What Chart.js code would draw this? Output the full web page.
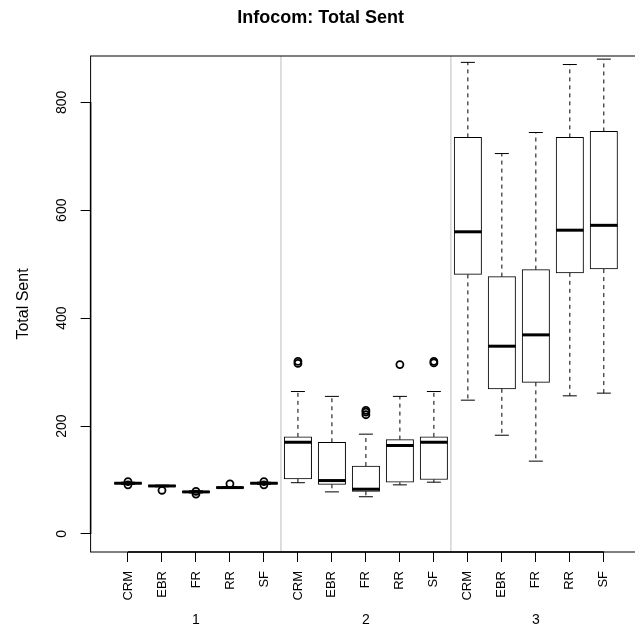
<!DOCTYPE html>
<html><head><meta charset="utf-8">
<script src="https://cdn.jsdelivr.net/npm/chart.js@4/dist/chart.umd.min.js"></script>
<style>
html,body{margin:0;padding:0;background:#fff;overflow:hidden;}
#clip{width:635px;height:631px;overflow:hidden;position:relative;background:#fff;}
#wrap{width:660px;height:631px;position:absolute;left:0;top:0;}
</style></head><body>
<div id="clip"><div id="wrap"><canvas id="c"></canvas></div></div>
<script>
// ---- data ----
const methods = ['CRM','EBR','FR','RR','SF'];
const groupLabels = ['1','2','3'];
const yTicks = [0,200,400,600,800];
const whiskerLow  = [92, 87.5, 76, 84.5, 92,   95, 78, 69, 91, 96,   248, 183, 135, 256, 261];
const q1          = [93, 88,   77, 85,   93,  102, 92, 79, 96, 101,  481, 269, 281, 484, 491];
const median      = [94, 89,   78, 86,   94,  170, 99, 83, 164, 170, 560, 348, 369, 563, 572];
const q3          = [95, 90,   79, 87,   95,  180, 170, 126, 175, 180, 735, 477, 490, 735, 746];
const whiskerHigh = [96, 90.5, 80, 88,   96,  264, 255, 185, 255, 264, 874, 705, 744, 870, 880];
const outliers    = [[91,97],[81],[74,79],[93],[91,97],[316,320],[],[221,226,229],[314],[317,320],[],[],[],[],[]];

// ---- derived structure ----
const positions = [], catLabels = [];
groupLabels.forEach((g, gi) => methods.forEach((m, mi) => { positions.push(gi*methods.length + mi + 1); catLabels.push(m); }));
const groupCenters = groupLabels.map((g, gi) => gi*methods.length + (methods.length+1)/2);
const separators = groupLabels.slice(1).map((g, gi) => (gi+1)*methods.length + 0.5);
const outlierPoints = [];
outliers.forEach((arr, i) => arr.forEach(v => outlierPoints.push({x: positions[i], y: v})));

const FONT = "'Liberation Sans', Arial, Helvetica, sans-serif";
Chart.defaults.font.family = FONT;
Chart.defaults.color = '#000';

const BOX_W = 27.4, CAP_W = 14;

const boxPlugin = {
  id: 'boxplot',
  afterLayout(chart) {
    // let the rotated category labels use the space below the axis box
    chart.scales.x.bottom = chart.height;
  },
  beforeDatasetsDraw(chart) {
    const {ctx, chartArea: a, scales: {x}} = chart;
    ctx.save();
    ctx.strokeStyle = '#d3d3d3'; ctx.lineWidth = 1.5;
    separators.forEach(s => {
      const px = x.getPixelForValue(s);
      ctx.beginPath(); ctx.moveTo(px, a.top); ctx.lineTo(px, a.bottom); ctx.stroke();
    });
    ctx.restore();
  },
  afterDatasetsDraw(chart) {
    const {ctx, scales: {x, y}} = chart;
    ctx.save();
    ctx.strokeStyle = '#000';
    positions.forEach((p, i) => {
      const px = x.getPixelForValue(p);
      const yl = y.getPixelForValue(whiskerLow[i]), yq1 = y.getPixelForValue(q1[i]);
      const ym = y.getPixelForValue(median[i]);
      const yq3 = y.getPixelForValue(q3[i]), yh = y.getPixelForValue(whiskerHigh[i]);
      ctx.lineWidth = 1; ctx.setLineDash([4, 4]);
      ctx.beginPath(); ctx.moveTo(px, yq3); ctx.lineTo(px, yh); ctx.stroke();
      ctx.beginPath(); ctx.moveTo(px, yq1); ctx.lineTo(px, yl); ctx.stroke();
      ctx.setLineDash([]);
      ctx.beginPath(); ctx.moveTo(px - CAP_W/2, yh); ctx.lineTo(px + CAP_W/2, yh); ctx.stroke();
      ctx.beginPath(); ctx.moveTo(px - CAP_W/2, yl); ctx.lineTo(px + CAP_W/2, yl); ctx.stroke();
      ctx.lineWidth = 3;
      ctx.beginPath(); ctx.moveTo(px - BOX_W/2, ym); ctx.lineTo(px + BOX_W/2, ym); ctx.stroke();
    });
    ctx.restore();
  },
  afterDraw(chart) {
    const {ctx, chartArea: a, scales: {x, y}} = chart;
    ctx.save();
    ctx.strokeStyle = '#000'; ctx.lineWidth = 1;
    ctx.strokeRect(a.left, a.top, a.right - a.left, a.bottom - a.top);
    ctx.lineWidth = 1.5;
    ctx.beginPath();
    ctx.moveTo(a.left, y.getPixelForValue(yTicks[0]));
    ctx.lineTo(a.left, y.getPixelForValue(yTicks[yTicks.length-1]));
    ctx.stroke();
    ctx.beginPath();
    ctx.moveTo(x.getPixelForValue(positions[0]), a.bottom);
    ctx.lineTo(x.getPixelForValue(positions[positions.length-1]), a.bottom);
    ctx.stroke();
    ctx.restore();
  }
};

new Chart(document.getElementById('c'), {
  type: 'bar',
  data: {
    datasets: [
      {
        type: 'bar',
        data: positions.map((p, i) => ({x: p, y: [q1[i], q3[i]]})),
        backgroundColor: '#ffffff', borderColor: '#000', borderWidth: 1,
        borderSkipped: false, barThickness: BOX_W, order: 2
      },
      {
        type: 'scatter',
        data: outlierPoints,
        pointStyle: 'circle', pointRadius: 3.5, pointBorderWidth: 1.8,
        pointBorderColor: '#000', pointBackgroundColor: 'rgba(0,0,0,0)', order: 1
      }
    ]
  },
  options: {
    responsive: true, maintainAspectRatio: false, animation: false,
    layout: {padding: {left: 0, right: 18.8, top: 0, bottom: 0}},
    plugins: {
      legend: {display: false}, tooltip: {enabled: false},
      title: {display: true, text: 'Infocom: Total Sent', color: '#000',
        font: {size: 18, weight: 'bold'}, padding: {top: 7, bottom: 27.4}}
    },
    scales: {
      x: {
        type: 'linear', position: 'bottom', weight: 0, min: -0.1, max: 16.1, offset: false,
        afterBuildTicks: s => { s.ticks = positions.map(v => ({value: v})); },
        ticks: {callback: (v, i) => catLabels[i], minRotation: 90, maxRotation: 90, autoSkip: false,
          font: {size: 13}, padding: 9, color: '#000'},
        grid: {drawOnChartArea: false, drawTicks: true, tickLength: 10, color: '#000', offset: false},
        border: {display: false},
        afterFit: s => { s.height = 30; }
      },
      x2: {
        type: 'linear', position: 'bottom', weight: 1, min: -0.1, max: 16.1, offset: false,
        afterBuildTicks: s => { s.ticks = groupCenters.map(v => ({value: v})); },
        ticks: {callback: (v, i) => groupLabels[i], maxRotation: 0, autoSkip: false,
          font: {size: 14}, padding: 30, color: '#000'},
        grid: {display: false, drawTicks: false, offset: false},
        border: {display: false},
        afterFit: s => { s.height = 49; }
      },
      y: {
        type: 'linear', min: -33.4, max: 885.8,
        afterBuildTicks: s => { s.ticks = yTicks.map(v => ({value: v})); },
        ticks: {minRotation: 90, maxRotation: 90, crossAlign: 'center', font: {size: 14}, padding: 7, color: '#000'},
        grid: {drawOnChartArea: false, tickLength: 10, color: '#000'},
        border: {display: false},
        title: {display: true, text: 'Total Sent', color: '#000', font: {size: 16}, padding: {top: 14, bottom: 0}},
        afterFit: s => { s.width = 90.6; }
      }
    }
  },
  plugins: [boxPlugin]
});
</script>
</body></html>
